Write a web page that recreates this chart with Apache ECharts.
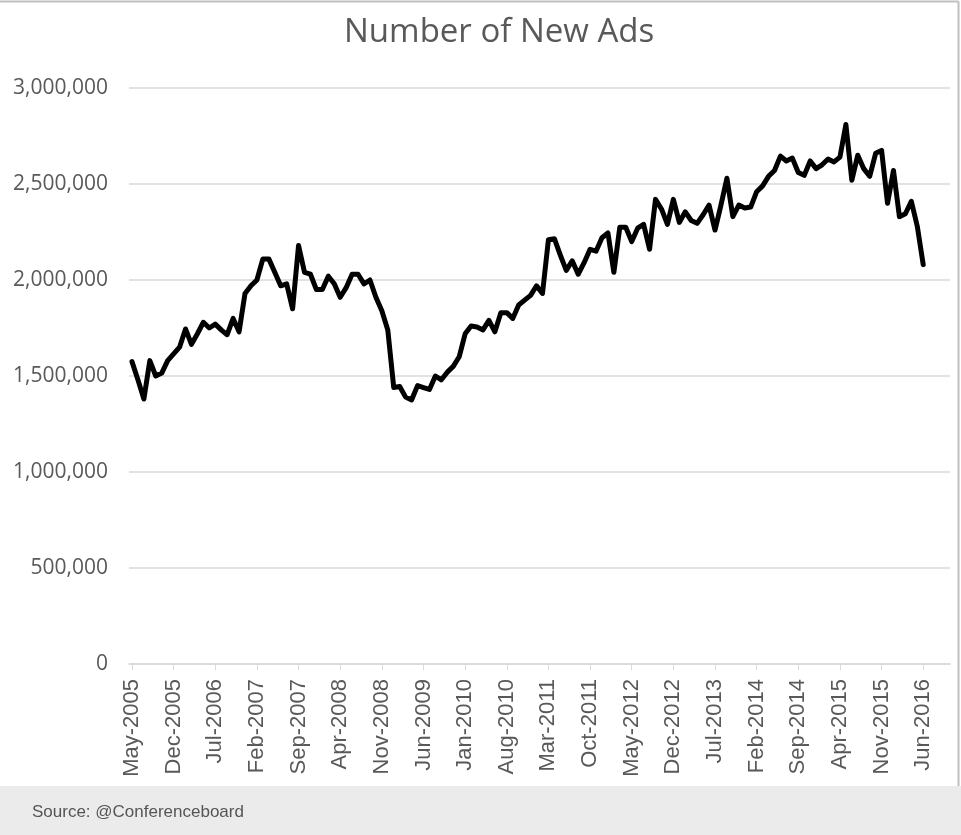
<!DOCTYPE html>
<html>
<head>
<meta charset="utf-8">
<script src="https://cdn.jsdelivr.net/npm/echarts@6/dist/echarts.min.js"></script>
<style>
html,body{margin:0;padding:0;background:#fff;}
#chart{width:961px;height:835px;}
</style>
</head>
<body>
<div id="chart"></div>
<script>
const title = 'Number of New Ads';
const sourceNote = 'Source: @Conferenceboard';

const categories = [
  'May-2005','Jun-2005','Jul-2005','Aug-2005','Sep-2005','Oct-2005','Nov-2005','Dec-2005',
  'Jan-2006','Feb-2006','Mar-2006','Apr-2006','May-2006','Jun-2006','Jul-2006','Aug-2006','Sep-2006','Oct-2006','Nov-2006','Dec-2006',
  'Jan-2007','Feb-2007','Mar-2007','Apr-2007','May-2007','Jun-2007','Jul-2007','Aug-2007','Sep-2007','Oct-2007','Nov-2007','Dec-2007',
  'Jan-2008','Feb-2008','Mar-2008','Apr-2008','May-2008','Jun-2008','Jul-2008','Aug-2008','Sep-2008','Oct-2008','Nov-2008','Dec-2008',
  'Jan-2009','Feb-2009','Mar-2009','Apr-2009','May-2009','Jun-2009','Jul-2009','Aug-2009','Sep-2009','Oct-2009','Nov-2009','Dec-2009',
  'Jan-2010','Feb-2010','Mar-2010','Apr-2010','May-2010','Jun-2010','Jul-2010','Aug-2010','Sep-2010','Oct-2010','Nov-2010','Dec-2010',
  'Jan-2011','Feb-2011','Mar-2011','Apr-2011','May-2011','Jun-2011','Jul-2011','Aug-2011','Sep-2011','Oct-2011','Nov-2011','Dec-2011',
  'Jan-2012','Feb-2012','Mar-2012','Apr-2012','May-2012','Jun-2012','Jul-2012','Aug-2012','Sep-2012','Oct-2012','Nov-2012','Dec-2012',
  'Jan-2013','Feb-2013','Mar-2013','Apr-2013','May-2013','Jun-2013','Jul-2013','Aug-2013','Sep-2013','Oct-2013','Nov-2013','Dec-2013',
  'Jan-2014','Feb-2014','Mar-2014','Apr-2014','May-2014','Jun-2014','Jul-2014','Aug-2014','Sep-2014','Oct-2014','Nov-2014','Dec-2014',
  'Jan-2015','Feb-2015','Mar-2015','Apr-2015','May-2015','Jun-2015','Jul-2015','Aug-2015','Sep-2015','Oct-2015','Nov-2015','Dec-2015',
  'Jan-2016','Feb-2016','Mar-2016','Apr-2016','May-2016','Jun-2016'
];

const newAds = [
  1575000,1480000,1380000,1580000,1500000,1515000,1580000,1615000,
  1650000,1745000,1665000,1720000,1780000,1750000,1770000,1740000,1715000,1800000,1730000,1930000,
  1970000,2000000,2110000,2110000,2040000,1970000,1980000,1850000,2180000,2040000,2030000,1950000,
  1950000,2020000,1980000,1910000,1960000,2030000,2030000,1980000,2000000,1910000,1840000,1740000,
  1440000,1445000,1390000,1375000,1450000,1440000,1430000,1500000,1480000,1520000,1550000,1600000,
  1720000,1760000,1755000,1740000,1790000,1730000,1830000,1830000,1800000,1870000,1895000,1920000,
  1970000,1930000,2210000,2215000,2130000,2050000,2100000,2030000,2090000,2160000,2150000,2220000,
  2245000,2040000,2275000,2275000,2200000,2270000,2290000,2160000,2420000,2370000,2290000,2420000,
  2300000,2355000,2310000,2295000,2340000,2390000,2260000,2390000,2530000,2330000,2390000,2375000,
  2380000,2460000,2490000,2540000,2570000,2645000,2620000,2635000,2560000,2545000,2620000,2580000,
  2600000,2630000,2615000,2640000,2810000,2520000,2650000,2580000,2540000,2660000,2675000,2400000,
  2570000,2330000,2345000,2410000,2280000,2080000
];

const yTicks = [0, 500000, 1000000, 1500000, 2000000, 2500000, 3000000];

const chart = echarts.init(document.getElementById('chart'), null, {renderer: 'canvas'});
chart.setOption({
  backgroundColor: '#ffffff',
  animation: false,
  title: {
    text: title,
    left: 339,
    top: 11,
    textStyle: {fontFamily: 'Open Sans', fontSize: 33, fontWeight: 'normal', color: '#595959'}
  },
  graphic: [
    {type: 'rect', shape: {x: 0, y: 786, width: 961, height: 49}, style: {fill: '#ebebeb'}, silent: true},
    {type: 'text', left: 32, top: 804, style: {text: sourceNote, font: '17px "Liberation Sans"', fill: '#555555'}},
    {type: 'line', shape: {x1: 0, y1: 1.5, x2: 958.5, y2: 1.5}, style: {stroke: '#bfbfbf', lineWidth: 2}},
    {type: 'line', shape: {x1: 958.5, y1: 1.5, x2: 958.5, y2: 786}, style: {stroke: '#bfbfbf', lineWidth: 2}}
  ],
  grid: {left: 129, right: 11, top: 88, bottom: 171, containLabel: false},
  xAxis: {
    type: 'category',
    data: categories,
    boundaryGap: true,
    max: 137,
    axisLine: {show: true, lineStyle: {color: '#d9d9d9', width: 1.5}},
    axisTick: {show: true, alignWithLabel: true, interval: 6, length: 6, lineStyle: {color: '#d9d9d9'}},
    axisLabel: {
      interval: 6,
      rotate: 90,
      margin: 15,
      fontFamily: 'Liberation Sans',
      fontSize: 22,
      color: '#595959',
      formatter: function (v) { return v == null ? '' : v; }
    },
    splitLine: {show: false}
  },
  yAxis: {
    type: 'value',
    min: yTicks[0],
    max: yTicks[yTicks.length - 1],
    interval: yTicks[1] - yTicks[0],
    axisLine: {show: false},
    axisTick: {show: false},
    axisLabel: {
      margin: 21,
      fontFamily: 'Open Sans',
      fontSize: 21,
      color: '#595959',
      formatter: function (v) { return v.toLocaleString('en-US'); }
    },
    splitLine: {show: true, lineStyle: {color: '#d9d9d9', width: 1.5}}
  },
  series: [{
    type: 'line',
    data: newAds,
    showSymbol: false,
    symbol: 'none',
    lineStyle: {color: '#000000', width: 5, join: 'round', cap: 'round'},
    itemStyle: {color: '#000000'}
  }]
});
</script>
</body>
</html>
